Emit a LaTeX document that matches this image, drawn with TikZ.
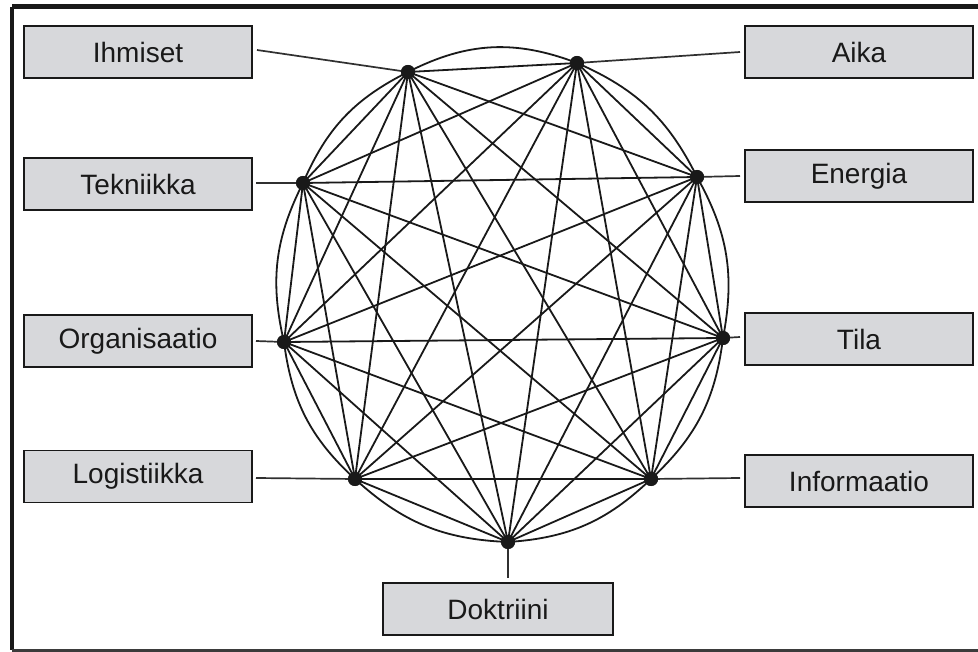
\documentclass[tikz,border=0pt]{standalone}
\usepackage{fontspec}
\setmainfont{Liberation Sans}
\definecolor{boxgray}{RGB}{215,216,219}
\definecolor{ink}{RGB}{25,25,25}
\begin{document}
\begin{tikzpicture}[x=1pt,y=-1pt,
  lbl/.style={draw=ink,line width=1.6pt,fill=boxgray,minimum width=228pt,minimum height=52pt,inner sep=0pt,font=\fontsize{28}{30}\selectfont,text=ink},
  dot/.style={circle,fill=ink,inner sep=0pt,minimum size=14pt},
  edge/.style={line width=1.8pt,draw=ink},
  link/.style={line width=1.7pt,draw=ink!90}
]
\useasboundingbox (0,0) rectangle (978,652);
\fill[white] (0,0) rectangle (978,652);
% frame
\draw[line width=5pt,ink] (978,7) -- (12,7);
\draw[line width=4.5pt,ink] (12,7) -- (12,650);
\draw[line width=3pt,ink!85] (12,650) -- (978,650);
% points
\node[dot] (p1) at (408,72) {};
\node[dot] (p2) at (577,63) {};
\node[dot] (p3) at (697,177) {};
\node[dot] (p4) at (723,338) {};
\node[dot] (p5) at (651,479) {};
\node[dot] (p6) at (508,542) {};
\node[dot] (p7) at (355,479) {};
\node[dot] (p8) at (284,342) {};
\node[dot] (p9) at (303,183) {};
% complete graph
\foreach \i [evaluate=\i as \n using int(\i+1)] in {1,...,8}{
  \foreach \j in {\n,...,9}{
    \draw[edge] (p\i.center) -- (p\j.center);
  }
}
% outer arcs
\draw[edge] (p1.center) to[bend left=24] (p2.center);
\foreach \a/\b in {2/3,3/4,4/5,5/6,6/7,7/8,8/9,9/1}{
  \draw[edge] (p\a.center) to[bend left=20] (p\b.center);
}
% labels
\node[lbl] (ih) at (138,52) {Ihmiset};
\node[lbl] (te) at (138,184) {Tekniikka};
\node[lbl] (or) at (138,341) {Organisaatio};
\node[lbl] (lo) at (138,476.5) {Logistiikka};
\node[lbl] (ai) at (859,52) {Aika};
\node[lbl] (en) at (859,176) {Energia};
\node[lbl] (ti) at (859,339) {Tila};
\node[lbl] (in) at (859,481) {Informaatio};
\node[lbl,minimum width=230pt] (do) at (498,609) {Doktriini};
% connectors
\coordinate (cih) at (257,50);
\coordinate (cte) at (256,183);
\coordinate (cor) at (256,341);
\coordinate (clo) at (256,478);
\coordinate (cai) at (740,52);
\coordinate (cen) at (740,176);
\coordinate (cti) at (740,337);
\coordinate (cin) at (740,478);
\coordinate (cdo) at (508,578);
\draw[link] (cih) -- (p1.center);
\draw[link] (p2.center) -- (cai);
\draw[link] (cte) -- (p9.center);
\draw[link] (p3.center) -- (cen);
\draw[link] (cor) -- (p8.center);
\draw[link] (p4.center) -- (cti);
\draw[link] (clo) -- (p7.center);
\draw[link] (p5.center) -- (cin);
\draw[link] (p6.center) -- (cdo);
% dots on top
\foreach \k in {1,...,9}{ \fill[ink] (p\k) circle (7pt); }
\end{tikzpicture}
\end{document}
